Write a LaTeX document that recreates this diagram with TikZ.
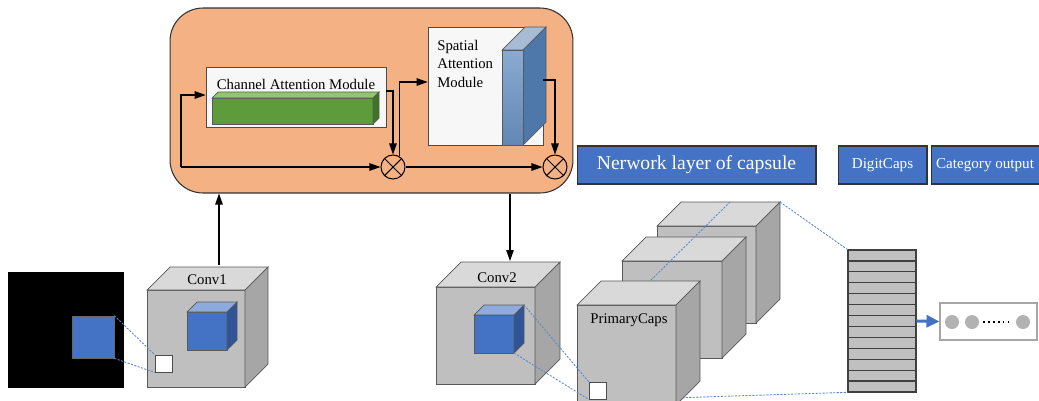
\documentclass[tikz,border=0pt]{standalone}
\usepackage{fontspec}
\setmainfont{Liberation Serif}
\usetikzlibrary{arrows.meta,positioning}

\definecolor{orangebg}{HTML}{F4B183}
\definecolor{capblue}{HTML}{4472C4}
\definecolor{bluetop}{HTML}{8FAADC}
\definecolor{blueside}{HTML}{2F5597}
\definecolor{cubefront}{HTML}{BFBFBF}
\definecolor{cubetop}{HTML}{D9D9D9}
\definecolor{cubeside}{HTML}{A6A6A6}
\definecolor{edgegray}{HTML}{595959}
\definecolor{greenfront}{HTML}{5E9C3B}
\definecolor{greentop}{HTML}{8FC86A}
\definecolor{greenside}{HTML}{3F7426}
\definecolor{prismfront}{HTML}{6C96C8}
\definecolor{prismtop}{HTML}{A8BBD4}
\definecolor{prismside}{HTML}{4E78AA}
\definecolor{stackgray}{HTML}{C0C0C0}

% cube: front corner x, y, width, height, depth, front, top, side
\newcommand{\drawcube}[8]{%
  \filldraw[fill=#6,draw=edgegray] (#1,#2) rectangle ++(#3,#4);
  \filldraw[fill=#7,draw=edgegray] (#1,#2) -- ++(#5,-#5) -- ++(#3,0) -- ++(-#5,#5) -- cycle;
  \filldraw[fill=#8,draw=edgegray] (#1+#3,#2) -- ++(#5,-#5) -- ++(0,#4) -- ++(-#5,#5) -- cycle;
}

\begin{document}
\begin{tikzpicture}[x=0.02cm,y=-0.02cm,
  txt/.style={font=\fontsize{8.4}{10.4}\selectfont, inner sep=0pt},
  arr/.style={-{Triangle[length=2.2mm,width=1.5mm]}, line width=0.6pt},
  link/.style={dash pattern=on 1.2pt off 0.8pt, capblue!85, line width=0.5pt},
  bluebox/.style={draw=black!80, fill=capblue, text=white, minimum height=0.76cm, inner sep=0pt, line width=0.6pt},
  mult/.style={circle, draw, fill=orangebg, minimum size=0.48cm, inner sep=0pt, line width=0.6pt},
  dot/.style={circle, fill=gray!60, minimum size=0.28cm, inner sep=0pt}]

\useasboundingbox (0,0) rectangle (1039,400);

% Attention block
\node (cbam) [draw=black!80, fill=orangebg, rounded corners=0.66cm, minimum width=8.06cm, minimum height=3.7cm, line width=0.6pt] at (371.5,100.5) {};

% Channel attention
\node (cam) [draw=black!70, fill=gray!6, minimum width=3.6cm, minimum height=1.2cm] at (296,97) {};
\node[txt, anchor=base] (camtext) at (296,89) {Channel Attention Module};
\drawcube{212}{98}{161}{26}{6}{greenfront}{greentop}{greenside} % green bar

% Spatial attention
\node (sam) [draw=black!70, fill=gray!6, minimum width=2.3cm, minimum height=2.36cm] at (485.5,86) {};
\node[txt, anchor=north west, align=left] (samtext) at (437,40) {Spatial\\Attention\\Module};
\drawcube{502}{50}{21}{95}{23}{prismfront}{prismtop}{prismside} % blue prism
\shade[top color=prismfront!80!white, bottom color=prismfront!90!black, draw=edgegray] (502,50) rectangle ++(21,95);

% Multiply
\node[mult] (m1) at (393,167) {};
\draw[line width=0.6pt] (m1.north west) -- (m1.south east) (m1.north east) -- (m1.south west);
\node[mult] (m2) at (555,167) {};
\draw[line width=0.6pt] (m2.north west) -- (m2.south east) (m2.north east) -- (m2.south west);

% Inner connections
\coordinate (skip) at (181,167);
\draw[arr] (skip) |- ([yshift=0.04cm]cam.west);
\draw[arr] (skip) -- (m1.west);
\draw[arr] ([yshift=0.12cm]cam.east) -| (m1.north);
\draw[arr] (m1.60) |- ([yshift=0.08cm]sam.west);
\draw[arr] ([yshift=0.12cm]sam.east) -| (m2.north);
\draw[arr] (m1.east) -- (m2.west);

% In / out of the block
\coordinate (conv1top) at (219,265);
\draw[arr] (conv1top) -- (conv1top |- cbam.south);
\coordinate (conv2top) at (510,261);
\draw[arr] (conv2top |- cbam.south) -- (conv2top);

% Labels on top
\node[bluebox, minimum width=4.78cm, font=\fontsize{11.2}{13}\selectfont] (netlayer) at (696.5,165) {Nerwork layer of capsule};
\node[bluebox, minimum width=1.78cm, font=\fontsize{8.6}{10}\selectfont, right=0.42cm of netlayer] (digitcaps) {DigitCaps};
\node[bluebox, minimum width=2.16cm, font=\fontsize{8.6}{10}\selectfont, right=0.06cm of digitcaps] (catout) {Category output};

% Input image
\node (inimg) [fill=black, minimum size=2.32cm, inner sep=0pt] at (66,330) {};
\node (patch) [fill=capblue, draw=black!60, minimum size=0.84cm, inner sep=0pt] at (93,337) {};

% Conv1
\drawcube{147}{290}{98}{97}{23}{cubefront}{cubetop}{cubeside}
\node[txt, anchor=base] (conv1) at (207,284) {Conv1};
\drawcube{187}{312}{40}{38}{10}{capblue}{bluetop}{blueside}
\node (win1) [draw=black!70, fill=white, minimum size=0.34cm, inner sep=0pt] at (163.5,363.5) {};
\draw[link] (patch.north east) -- (win1.north west);
\draw[link] (patch.south east) -- (win1.south west);

% Conv2
\drawcube{436}{287}{99}{97}{25}{cubefront}{cubetop}{cubeside}
\node[txt, anchor=base] (conv2) at (497,282) {Conv2};
\drawcube{474}{315}{40}{38}{10}{capblue}{bluetop}{blueside}
\coordinate (c2a) at (524,305);
\coordinate (c2b) at (514,353);

% PrimaryCaps (back to front)
\drawcube{657}{226}{99}{97}{24}{cubefront}{cubetop}{cubeside}
\drawcube{622}{261}{100}{97}{24}{cubefront}{cubetop}{cubeside}
\coordinate (backtop) at (730,202);
\coordinate (fronttop) at (650,281);
\draw[link] (backtop) -- (fronttop);

% DigitCaps stack
\node (stack) [minimum width=1.36cm, minimum height=2.84cm, inner sep=0pt] at (882,321) {};
\foreach \i in {0,...,12}
  \draw[fill=stackgray, draw=black!75, line width=0.7pt] (848,250+\i*10.92) rectangle ++(68,10.92);
\coordinate (backcorner) at (780,202);
\coordinate (pcbottom) at (640,399);
\draw[link] (backcorner) -- (stack.north west);
\draw[link] (pcbottom) -- (stack.south west);

\drawcube{577}{305}{99}{100}{24}{cubefront}{cubetop}{cubeside}
\node[txt, anchor=base] (pcaps) at (629,323) {PrimaryCaps};
\node (win2) [draw=black!70, fill=white, minimum size=0.34cm, inner sep=0pt] at (597.5,390.5) {};
\draw[link] (c2a) -- (win2.north west);
\draw[link] (c2b) -- (win2.south west);

% Category output
\node (outbox) [draw=gray!70, fill=white, minimum width=1.94cm, minimum height=0.74cm, line width=0.6pt] at (988.5,321.5) {};
\node[dot] (d1) at (952,322) {};
\node[dot] (d2) at (972,322) {};
\node[dot] (d3) at (1023,322) {};
\draw[dotted, line width=0.8pt, shorten <=0.08cm, shorten >=0.08cm] (d2.east) -- (d3.west);
\draw[-{Triangle[length=2.6mm,width=2.4mm]}, capblue, line width=1.7pt] (stack.east) -- (outbox.west);

\end{tikzpicture}
\end{document}
